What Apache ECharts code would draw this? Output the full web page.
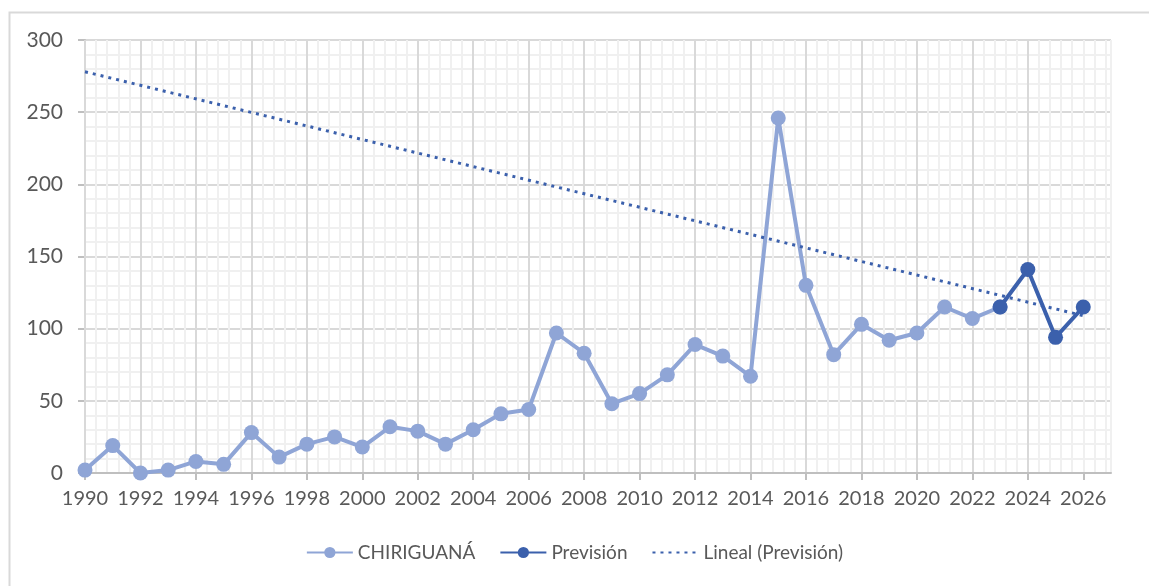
<!DOCTYPE html>
<html>
<head>
<meta charset="utf-8">
<script src="https://cdn.jsdelivr.net/npm/echarts@6/dist/echarts.min.js"></script>
<style>
  html, body { margin: 0; padding: 0; background: #fff; }
  #chart { width: 1149px; height: 586px; }
</style>
</head>
<body>
<div id="chart"></div>
<script>
// datos
var years = [1990, 1991, 1992, 1993, 1994, 1995, 1996, 1997, 1998, 1999,
  2000, 2001, 2002, 2003, 2004, 2005, 2006, 2007, 2008, 2009,
  2010, 2011, 2012, 2013, 2014, 2015, 2016, 2017, 2018, 2019,
  2020, 2021, 2022, 2023];
var chiriguana = [2, 19, 0, 2, 8, 6, 28, 11, 20, 25,
  18, 32, 29, 20, 30, 41, 44, 97, 83, 48,
  55, 68, 89, 81, 67, 246, 130, 82, 103, 92,
  97, 115, 107, 115];
var forecastYears = [2023, 2024, 2025, 2026];
var forecast = [115, 141, 94, 115];
var trendYears = [1990, 2026];
var trendValues = [278, 109];
var xTickLabels = [1990, 1992, 1994, 1996, 1998, 2000, 2002, 2004, 2006, 2008,
  2010, 2012, 2014, 2016, 2018, 2020, 2022, 2024, 2026];
var yTicks = [0, 50, 100, 150, 200, 250, 300];

function pairs(xs, ys) {
  return xs.map(function (x, i) { return [x, ys[i]]; });
}

var light = "#8FA5D6";
var dark = "#3B60AC";
var textColor = "#595959";
var font = "Lato";

var myChart = echarts.init(document.getElementById("chart"));
myChart.setOption({
  animation: false,
  graphic: [{
    type: "rect",
    left: 7, top: 10,
    shape: { width: 1300, height: 700 },
    style: { fill: "none", stroke: "#D9D9D9", lineWidth: 2 },
    silent: true
  }],
  grid: { left: 85, right: 38, top: 40, bottom: 113 },
  legend: {
    bottom: 19,
    left: "center",
    itemWidth: 46,
    itemHeight: 14,
    itemGap: 24,
    textStyle: { color: textColor, fontSize: 19, fontFamily: font },
    data: [
      "CHIRIGUANÁ",
      "Previsión",
      { name: "Lineal (Previsión)", itemStyle: { opacity: 0 } }
    ]
  },
  xAxis: [{
    type: "value",
    min: 1990,
    max: 2027,
    interval: 2,
    axisLine: { show: true, lineStyle: { color: "#BFBFBF", width: 2 } },
    axisTick: { show: true, length: 7, lineStyle: { color: "#BFBFBF", width: 2 }, customValues: xTickLabels },
    axisLabel: {
      color: textColor, fontSize: 20, fontFamily: font, margin: 16,
      customValues: xTickLabels,
      formatter: function (v) { return String(v); }
    },
    splitLine: { show: true, showMaxLine: false, lineStyle: { color: "#D9D9D9", width: 2 } },
    z: 2
  }, {
    // rejilla secundaria vertical
    type: "value",
    min: 1990,
    max: 2027,
    interval: 0.4,
    position: "bottom",
    axisLine: { show: false },
    axisTick: { show: false },
    axisLabel: { show: false },
    splitLine: { show: true, lineStyle: { color: "#F0F0F0", width: 2 } },
    z: 0
  }],
  yAxis: {
    type: "value",
    min: yTicks[0],
    max: yTicks[yTicks.length - 1],
    interval: 50,
    axisLine: { show: true, lineStyle: { color: "#BFBFBF", width: 2 } },
    axisTick: { show: true, length: 7, lineStyle: { color: "#BFBFBF", width: 2 } },
    axisLabel: { color: textColor, fontSize: 21, fontFamily: font, margin: 22 },
    splitLine: { show: true, lineStyle: { color: "#D9D9D9", width: 2 } },
    minorTick: { show: false, splitNumber: 5 },
    minorSplitLine: { show: true, lineStyle: { color: "#F0F0F0", width: 2 } }
  },
  series: [
    {
      name: "CHIRIGUANÁ",
      type: "line",
      data: pairs(years, chiriguana),
      symbol: "circle",
      symbolSize: 15,
      itemStyle: { color: light },
      lineStyle: { color: light, width: 4 },
      z: 3
    },
    {
      name: "Previsión",
      type: "line",
      data: pairs(forecastYears, forecast),
      symbol: "circle",
      symbolSize: 15,
      itemStyle: { color: dark },
      lineStyle: { color: dark, width: 4 },
      z: 4
    },
    {
      name: "Lineal (Previsión)",
      type: "line",
      data: pairs(trendYears, trendValues),
      symbol: "none",
      itemStyle: { color: dark },
      lineStyle: { color: dark, width: 3, type: [3, 5] },
      z: 5
    }
  ]
});
</script>
</body>
</html>
